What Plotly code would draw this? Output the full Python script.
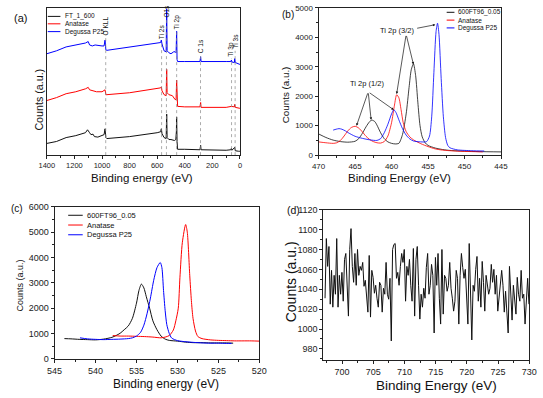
import plotly.graph_objects as go

W, H = 543, 398
def px(x): return x / W
def py(y): return 1 - y / H

FONT = "Liberation Sans, Arial, sans-serif"
BLACK, RED, BLUE = "#111111", "#ff0000", "#0000ff"

# ---------------- Panel (a): survey spectra (offset, a.u.) ----------------
a_series_names = ["FT_1_600", "Anatase", "Degussa P25"]
a_ft_energy = [1400, 1330, 1260, 1190, 1120, 1105, 1090, 1080, 1065, 1055, 1030, 1000, 985, 978, 972, 965, 800, 600, 575, 570, 565, 550, 535, 531, 528, 515, 500, 475, 465, 461, 459, 456, 452, 400, 290, 285, 282, 100, 66, 62, 58, 38, 34, 10, 0]
a_ft_counts = [12, 14, 18, 20, 23, 26, 23, 21, 21.5, 19, 18.5, 20, 21, 27, 18, 17, 19, 23, 24, 27, 22, 18, 17, 42, 18, 16, 16, 15, 16, 24, 39, 14, 6, 6, 5.5, 10, 5.5, 5, 5.5, 7, 5, 8, 4.5, 4, 4]
a_an_energy = [1400, 1330, 1260, 1190, 1120, 1100, 1090, 1070, 1040, 1000, 985, 978, 972, 965, 800, 600, 575, 570, 565, 550, 535, 531, 528, 515, 490, 470, 463, 459, 456, 452, 400, 290, 285, 282, 100, 62, 40, 38, 34, 0]
a_an_counts = [56, 59, 63, 65, 68, 69.5, 67, 66, 65, 65, 66, 67, 62, 62, 64, 68, 69, 70, 66, 62, 61, 88, 64, 62, 61, 57, 57, 77, 53, 50, 49.5, 49.5, 54, 49, 49, 50, 49.5, 52, 49, 48]
a_p25_energy = [1400, 1330, 1260, 1190, 1120, 1100, 1090, 1070, 1050, 1000, 985, 978, 972, 965, 800, 600, 575, 570, 565, 550, 535, 531, 528, 515, 500, 480, 470, 463, 459, 456, 452, 400, 290, 285, 282, 100, 66, 62, 58, 40, 38, 34, 10, 0]
a_p25_counts = [104, 107, 111, 113, 115, 116.5, 113, 112, 113, 112, 112, 118, 108, 107.5, 111, 115, 115.5, 118, 114, 107, 106, 150, 107, 105, 104, 106, 106, 105, 127, 98, 96, 96, 96, 101, 96, 96, 96, 97.5, 95.5, 95, 99, 95, 94, 93]
a_peak_labels = ["O KLL", "Ti 2s", "O1s", "Ti 2p", "C 1s", "Ti 3p", "Ti 3s"]
a_peak_energy = [973, 568, 533, 459, 286, 61, 35]
a_label_base = [121, 117, 139, 127, 102, 99, 107]

# ---------------- Panel (b): Ti 2p ----------------
b_series_names = ["600FT96_0.05", "Anatase", "Degussa P25"]
b_ft_energy = [470.0, 469.0, 468.0, 467.0, 466.0, 465.0, 464.5, 464.0, 463.5, 463.0, 462.7, 462.3, 462.0, 461.5, 461.0, 460.5, 460.0, 459.5, 459.0, 458.5, 458.0, 457.6, 457.3, 457.0, 456.7, 456.4, 456.1, 455.8, 455.4, 455.0, 454.0, 453.0, 452.0, 450.0, 448.0, 445.0]
b_ft_counts = [720, 600, 510, 460, 440, 470, 560, 740, 960, 1140, 1190, 1140, 1020, 760, 560, 450, 400, 380, 400, 700, 1400, 2300, 2900, 3100, 2700, 1800, 1000, 620, 420, 330, 240, 190, 160, 135, 120, 110]
b_an_energy = [470, 469, 468, 467.5, 467, 466.5, 466, 465.5, 465.0, 464.5, 464, 463.5, 463, 462.5, 462, 461.5, 461, 460.5, 460.0, 459.6, 459.3, 459.0, 458.7, 458.4, 458.0, 457.5, 457, 456, 455, 454, 453, 451, 449, 447.5]
b_an_counts = [450, 420, 400, 420, 500, 650, 820, 940, 980, 920, 790, 640, 530, 460, 420, 410, 460, 650, 1100, 1700, 2050, 1950, 1550, 1100, 800, 620, 520, 390, 290, 210, 170, 135, 120, 110]
b_p25_energy = [468, 467.6, 467.2, 466.8, 466.3, 466, 465, 464, 463, 462, 461.5, 461, 460.5, 460.0, 459.7, 459.4, 459.0, 458.5, 458, 457.5, 457, 456, 455.2, 454.8, 454.5, 454.2, 453.9, 453.7, 453.5, 453.2, 452.9, 452.6, 452.3, 452.0, 451, 449, 447.3]
b_p25_counts = [850, 880, 900, 880, 820, 770, 640, 570, 520, 500, 560, 760, 1050, 1400, 1540, 1450, 1200, 900, 680, 550, 480, 450, 460, 650, 1300, 2800, 4200, 4480, 4100, 2600, 1300, 600, 330, 250, 180, 150, 140]

# ---------------- Panel (c): O 1s ----------------
c_series_names = ["600FT96_0.05", "Anatase", "Degussa P25"]
c_ft_energy = [543.8, 543.0, 542.0, 541.0, 540.0, 539.0, 538.0, 537.5, 537.0, 536.5, 536.0, 535.5, 535.0, 534.7, 534.4, 534.1, 533.8, 533.4, 533.0, 532.5, 532.0, 531.5, 531.0, 530.0, 529.0, 528.0, 527.0, 526.0, 525.0, 524.0, 523.2]
c_ft_counts = [800, 790, 770, 760, 750, 780, 850, 920, 1010, 1150, 1300, 1600, 2200, 2700, 2950, 2800, 2450, 2000, 1500, 1150, 900, 780, 730, 700, 660, 640, 640, 630, 630, 630, 620]
c_an_energy = [537.9, 537.0, 536.0, 535.0, 534.0, 533.0, 532.0, 531.5, 531.0, 530.5, 530.2, 529.9, 529.7, 529.4, 529.0, 528.8, 528.5, 528.3, 528.1, 527.8, 527.5, 527.0, 526.0, 525.0, 524.0, 523.0, 522.0, 521.0, 520.0]
c_an_counts = [920, 900, 900, 890, 880, 860, 830, 860, 920, 1140, 1500, 2000, 3200, 4600, 5300, 5000, 3300, 2300, 1600, 1100, 880, 800, 750, 730, 720, 710, 710, 710, 700]
c_p25_energy = [541.9, 541.0, 540.0, 539.0, 538.0, 537.0, 536.0, 535.5, 535.0, 534.5, 534.1, 533.7, 533.3, 532.9, 532.5, 532.1, 531.9, 531.7, 531.5, 531.3, 531.0, 530.7, 530.0, 529.4, 528.0, 527.0, 526.0, 525.0, 524.0, 523.4]
c_p25_counts = [830, 790, 770, 760, 770, 780, 800, 830, 900, 1050, 1330, 1800, 2400, 3100, 3600, 3800, 3600, 2700, 1900, 1350, 1000, 820, 720, 690, 650, 630, 620, 620, 610, 610]

# ---------------- Panel (d): noisy region ----------------
d_energy_start = 697.26
d_energy_step = 0.2083
d_counts = [1031, 1091, 1063, 1083, 1025, 1059, 1022, 1054, 1035, 1091, 1022, 1054, 1035, 1057, 1028, 1070, 1076, 1041, 1013, 1080,
            1101, 1063, 1047, 1076, 1044, 1080, 1054, 1063, 1059, 1067, 1043, 1049, 1031, 1017, 1074, 1012, 1059, 1052, 1036, 1044,
            1031, 1022, 1047, 1044, 1017, 1041, 1035, 1067, 1035, 1030, 1051, 988, 1080, 1085, 1086, 1051, 1057, 1044, 1063, 1076,
            1067, 1080, 1028, 1063, 1054, 1070, 1044, 1028, 1081, 1013, 1070, 1083, 1044, 1010,
            1035, 1022, 1041, 1031, 1062, 1076, 1035, 1044, 1065, 1054, 996, 1072, 1044, 1076, 1031, 1005, 1080, 1015, 1054, 1051,
            1038, 1044, 1067, 1041, 1031, 1018, 1028, 1059, 1051, 1005, 1054, 1076, 1062, 1051, 1060, 1035, 1005, 1086, 1038, 989,
            1044, 1038, 1060, 1073, 1028, 1051, 1022, 1068, 1047, 1018, 1054, 1044, 1035, 1041, 1065, 1047, 1060, 1035, 1054, 1018,
            1031, 1051, 1059, 1044, 1017, 1038, 1015, 996, 1063, 1031, 1009, 1044, 1031, 1015, 1052, 1035, 1028, 1059, 1031, 1035,
            1005, 1031, 1051, 1025]
d_energy = [d_energy_start + d_energy_step * i for i in range(len(d_counts))]

fig = go.Figure()
colors = [BLACK, RED, BLUE]

def add(xs, ys, ax, color, width, name, shape="linear"):
    fig.add_trace(go.Scatter(x=xs, y=ys, mode="lines", name=name, showlegend=False,
                             xaxis="x" + ax, yaxis="y" + ax,
                             line=dict(color=color, width=width, shape=shape, smoothing=0.7 if shape == "spline" else None)))

for xs, ys, c, n in zip([a_ft_energy, a_an_energy, a_p25_energy], [a_ft_counts, a_an_counts, a_p25_counts], colors, a_series_names):
    add(xs, ys, "", c, 1.0, n)
for xs, ys, c, n in zip([b_ft_energy, b_an_energy, b_p25_energy], [b_ft_counts, b_an_counts, b_p25_counts], colors, b_series_names):
    add(xs, ys, "2", c, 0.8, n, "spline")
for xs, ys, c, n in zip([c_ft_energy, c_an_energy, c_p25_energy], [c_ft_counts, c_an_counts, c_p25_counts], colors, c_series_names):
    add(xs, ys, "3", c, 1.0, n, "spline")
add(d_energy, d_counts, "4", "#111111", 1.0, "600FT96_0.05")

def xax(dom, rng, dtick, mdtick, size, anchor):
    return dict(domain=dom, range=rng, anchor=anchor, dtick=dtick, tick0=0,
                showline=True, mirror=True, linecolor="#222", linewidth=1,
                ticks="outside", ticklen=3, tickwidth=0.8, tickcolor="#222",
                minor=dict(ticks="outside", ticklen=2, dtick=mdtick, tickcolor="#222", tickwidth=0.6),
                showgrid=False, zeroline=False,
                tickfont=dict(family=FONT, size=size, color="#222"))

layout = dict(
    width=W, height=H, margin=dict(l=0, r=0, t=0, b=0),
    paper_bgcolor="white", plot_bgcolor="white", showlegend=False,
    xaxis=xax([px(40), px(239)], [1400, 0], 200, 100, 7.5, "y"),
    yaxis=dict(domain=[py(154), py(3)], range=[0, 151], anchor="x", showline=True, mirror=True,
               linecolor="#222", linewidth=1, showticklabels=False, ticks="", showgrid=False, zeroline=False),
    xaxis2=xax([px(320), px(508)], [470, 445], 5, 2.5, 8, "y2"),
    yaxis2=xax([py(154), py(3)], [0, 5000], 1000, 500, 8, "x2"),
    xaxis3=xax([px(48), px(259)], [545, 520], 5, 2.5, 9, "y3"),
    yaxis3=xax([py(363), py(207)], [0, 6000], 1000, 500, 9, "x3"),
    xaxis4=xax([px(325), px(537)], [697, 730], 5, 2.5, 9, "y4"),
    yaxis4=xax([py(364), py(210)], [969, 1120], 20, 10, 9, "x4"),
)
fig.update_layout(**layout)

ann = []
shapes = []
def text(x, y, s, size, angle=0, xanchor="center", yanchor="middle", xref="paper", yref="paper", color="#111"):
    ann.append(dict(x=x, y=y, xref=xref, yref=yref, text=s, showarrow=False, textangle=angle,
                    xanchor=xanchor, yanchor=yanchor, font=dict(family=FONT, size=size, color=color)))

# panel labels
text(px(13), py(13), "(a)", 11)
text(px(288), py(10), "(b)", 10)
text(px(9), py(209), "(c)", 10)
text(px(294), py(210), "(d)", 10.5)

# axis titles
text(px(138), py(177), "Binding energy (eV)", 11.5)
text(px(32), py(97), "Counts (a.u.)", 10.7, angle=-90)
text(px(403), py(177), "Binding Energy (eV)", 11.5)
text(px(286), py(92), "Counts (a.u.)", 9.8, angle=-90)
text(px(163), py(389), "Binding energy (eV)", 12)
text(px(12), py(288), "Counts (a.u.)", 9, angle=-90)
text(px(441), py(390), "Binding Energy (eV)", 13.5)
text(px(291), py(284), "Counts (a.u.)", 14, angle=-90)

# panel (a) reference lines and labels
for lab, e, base in zip(a_peak_labels, a_peak_energy, a_label_base):
    shapes.append(dict(type="line", xref="x", yref="y", x0=e, x1=e, y0=0, y1=base,
                       line=dict(color="#888", width=0.7, dash="dot")))
    text(e, base, lab, 6.5, angle=-90, xanchor="center", yanchor="bottom", xref="x", yref="y")

# manual legends
def legend(x0, x1, xt, rows, names, size):
    for yrow, n, c in zip(rows, names, colors):
        shapes.append(dict(type="line", xref="paper", yref="paper", x0=px(x0), x1=px(x1), y0=py(yrow), y1=py(yrow),
                           line=dict(color=c, width=1)))
        text(px(xt), py(yrow), n, size, xanchor="left")
legend(41, 54, 57, [11.7, 19.3, 27.3], a_series_names, 6.5)
legend(452, 460, 462, [7.5, 15.5, 23.5], b_series_names, 6.5)
legend(62, 77, 79, [215.7, 225.7, 235.7], c_series_names, 7.5)

# panel (b) arrows
b_label_32 = ("Ti 2p (3/2)", 459.2, 4250)
b_label_12 = ("Ti 2p (1/2)", 463.4, 2420)
text(b_label_32[1], b_label_32[2], b_label_32[0], 7.5, xref="x2", yref="y2")
text(b_label_12[1], b_label_12[2], b_label_12[0], 7.5, xref="x2", yref="y2")
arrows = [((458.0, 4100), (459.3, 2080)), ((458.0, 4100), (457.0, 3080)), ((456.7, 4300), (454.0, 4430)),
          ((463.2, 2150), (464.8, 1000)), ((463.2, 2150), (462.8, 1200)), ((463.2, 2150), (459.7, 1540))]
for (tx, ty), (hx, hy) in arrows:
    ann.append(dict(x=hx, y=hy, ax=tx, ay=ty, xref="x2", yref="y2", axref="x2", ayref="y2", text="",
                    showarrow=True, arrowhead=2, arrowsize=0.7, arrowwidth=0.7, arrowcolor="#111", standoff=0))

fig.update_layout(annotations=ann, shapes=shapes)
fig.write_html("out.html", config={"displayModeBar": False},
               post_script="document.body.style.margin='0';document.body.style.padding='0';document.body.style.overflow='hidden';")
